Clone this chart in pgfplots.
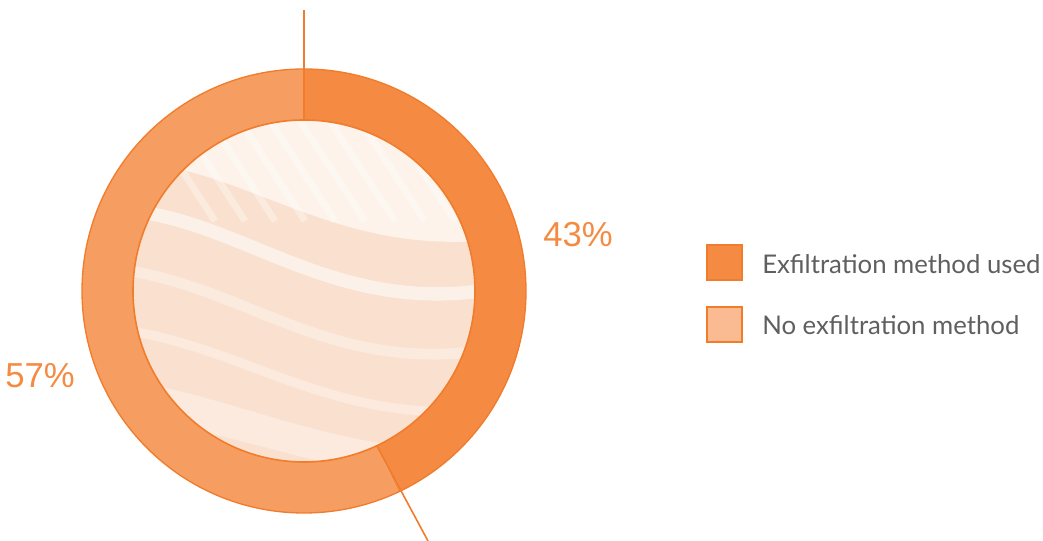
\documentclass[border=0pt]{standalone}
\usepackage{pgfplots}
\pgfplotsset{compat=1.18}
\usepackage{pgfplotstable}
\usetikzlibrary{calc}
\usepackage{fontspec}
\setmainfont{Lato}
\newfontfamily\pctfont{Liberation Sans}
\definecolor{darkor}{HTML}{F58A42}
\definecolor{lightor}{HTML}{F69E61}
\definecolor{edgeor}{HTML}{F07C2C}
\definecolor{legl}{HTML}{FBBB92}
\definecolor{innerc}{HTML}{FAE1CF}
\definecolor{txt}{HTML}{5F5F5F}
\pgfplotstableread{
label value
used 43
none 57
}\piedata
\pgfplotstablegetelem{0}{value}\of\piedata \let\vused\pgfplotsretval
\pgfplotstablegetelem{1}{value}\of\piedata \let\vnone\pgfplotsretval
\begin{document}
\begin{tikzpicture}
\pgfmathsetmacro{\aend}{90-3.6*\vused}
\def\Ro{166.5pt}
\def\Ri{128.25pt}
\begin{axis}[
  scale only axis, width=782.25pt, height=405.75pt,
  xmin=0, xmax=1043, ymin=0, ymax=541,
  hide axis, clip=false]
% used slice (clockwise from top)
\fill[darkor] (axis cs:304,250) ++(90:\Ro) arc[start angle=90, end angle=\aend, radius=\Ro]
  -- ($(axis cs:304,250)+(\aend:\Ri)$) arc[start angle=\aend, end angle=90, radius=\Ri] -- cycle;
\fill[lightor] (axis cs:304,250) ++(90:\Ro) arc[start angle=90, end angle=\aend+360, radius=\Ro]
  -- ($(axis cs:304,250)+(\aend:\Ri)$) arc[start angle=\aend+360, end angle=90, radius=\Ri] -- cycle;
\draw[edgeor, line width=1pt] (axis cs:304,250) circle[radius=\Ro];
% inner disk
\begin{scope}
\clip (axis cs:304,250) circle[radius=\Ri];
\fill[innerc] (axis cs:304,250) circle[radius=\Ri];
\fill[white, opacity=0.6] (axis cs:130,380) .. controls (axis cs:250,370) and (axis cs:330,290) .. (axis cs:480,300) -- (axis cs:480,430) -- (axis cs:130,430) -- cycle;
\pgfplotsinvokeforeach{0,...,9}{
  \draw[white, opacity=0.35, line width=5pt] (axis cs:150+#1*30,420) -- (axis cs:215+#1*30,320);
}
\fill[white, opacity=0.3] (axis cs:130,160) .. controls (axis cs:250,140) and (axis cs:330,90) .. (axis cs:480,90) -- (axis cs:480,60) .. controls (axis cs:330,60) and (axis cs:250,110) .. (axis cs:130,120) -- cycle;
\draw[white, opacity=0.55, line width=10pt] (axis cs:130,330) .. controls (axis cs:240,320) and (axis cs:330,230) .. (axis cs:480,250);
\draw[white, opacity=0.35, line width=8pt] (axis cs:130,270) .. controls (axis cs:250,250) and (axis cs:330,170) .. (axis cs:480,190);
\draw[white, opacity=0.3, line width=7pt] (axis cs:130,210) .. controls (axis cs:250,190) and (axis cs:330,120) .. (axis cs:480,130);
\end{scope}
\draw[edgeor, line width=1.2pt] (axis cs:304,250) circle[radius=\Ri];
% separators
\draw[edgeor, line width=1.2pt] (axis cs:304,531) -- ($(axis cs:304,250)+(90:\Ri)$);
\draw[edgeor, line width=1.2pt] ($(axis cs:304,250)+(\aend:\Ri)$) -- (axis cs:428,0);
% labels
\node[text=darkor, font=\pctfont\fontsize{26}{30}\selectfont] at (axis cs:578,306) {\vused\%};
\node[text=darkor, font=\pctfont\fontsize{26}{30}\selectfont] at (axis cs:40,165) {\vnone\%};
% legend
\filldraw[fill=darkor, draw=edgeor, line width=0.8pt] (axis cs:707,296) rectangle (axis cs:742,261);
\filldraw[fill=legl, draw=edgeor, line width=0.8pt] (axis cs:707,234) rectangle (axis cs:742,199);
\node[anchor=west, text=txt, font=\fontsize{19.3}{22}\selectfont, inner sep=0pt] at (axis cs:762,277) {Exfiltration method used};
\node[anchor=west, text=txt, font=\fontsize{19.3}{22}\selectfont, inner sep=0pt] at (axis cs:762,216) {No exfiltration method};
\end{axis}
\pgfresetboundingbox
\path[use as bounding box] (current axis.south west) rectangle (current axis.north east);
\end{tikzpicture}
\end{document}
